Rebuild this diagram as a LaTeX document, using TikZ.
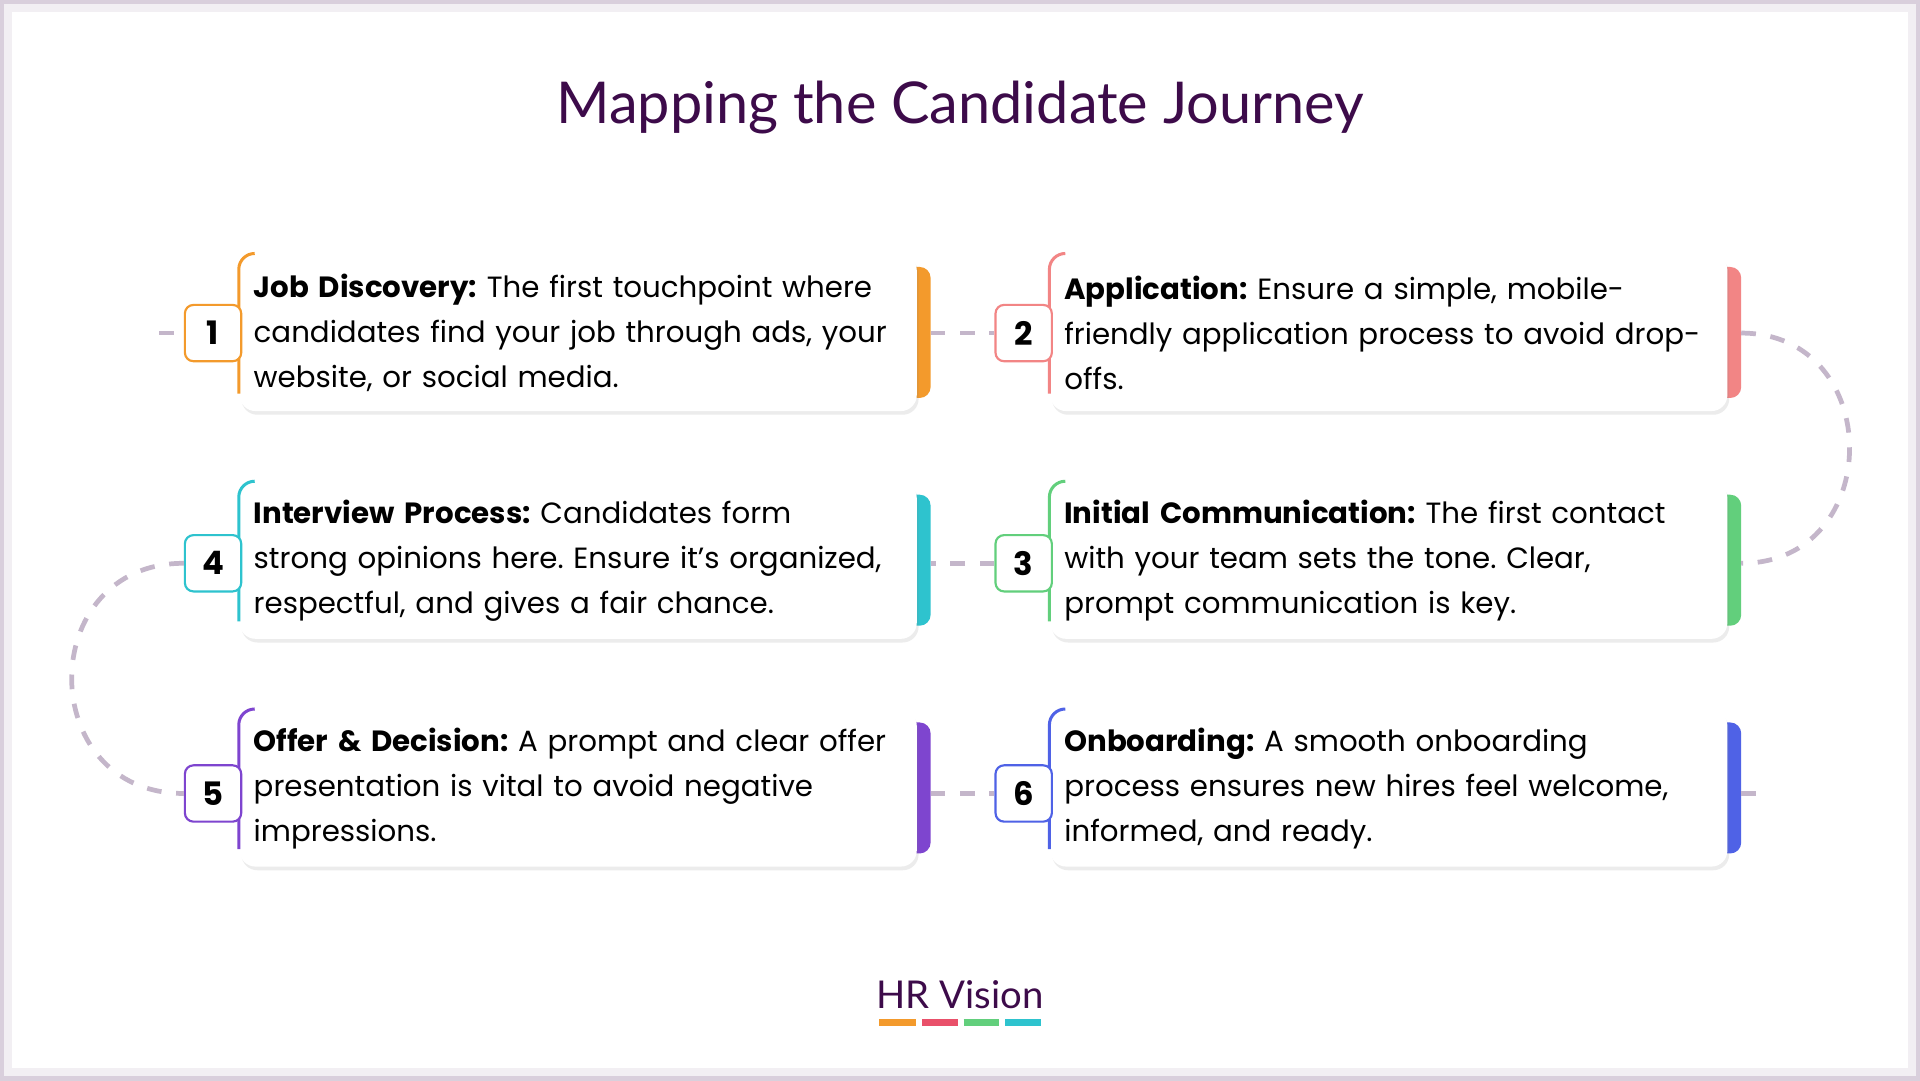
\documentclass[tikz,border=0pt]{standalone}
\usepackage{fontspec}
\setmainfont{Poppins}
\newfontfamily\titlefont{Lato}
\usetikzlibrary{positioning,shadows}
\definecolor{titlepurple}{HTML}{3D0B4A}
\definecolor{dashgray}{HTML}{C4B6CA}
\definecolor{cOne}{HTML}{F39A2C}
\definecolor{cTwo}{HTML}{F28585}
\definecolor{cThree}{HTML}{62CF7C}
\definecolor{cFour}{HTML}{2EC3CE}
\definecolor{cFive}{HTML}{7E45CF}
\definecolor{cSix}{HTML}{4F62E6}
\definecolor{logored}{HTML}{E9506A}
\frenchspacing
\newcommand{\cardfont}{\fontsize{6.8}{10.45}\selectfont}
\tikzset{
  card/.style={rectangle, fill=white, rounded corners=1.3mm, minimum width=55.3mm,
    minimum height=12.8mm, text width=53mm, inner xsep=1.15mm, align=left,
    anchor=north west, font=\cardfont,
    drop shadow={shadow xshift=0.15mm, shadow yshift=-0.3mm, opacity=0.15}},
  badge/.style={rectangle, fill=white, draw=#1, line width=0.5pt, rounded corners=0.7mm,
    minimum width=4.6mm, minimum height=4.6mm, font=\fontsize{7.5}{9}\selectfont\bfseries},
  strip/.style={fill=#1, rounded corners=0.9mm},
  edgeline/.style={draw=#1, line width=0.7pt},
  link/.style={dashgray, line width=1.1pt, dash pattern=on 1.2mm off 1.2mm},
}
\begin{document}
\begin{tikzpicture}[x=0.1mm, y=-0.1mm]
  \useasboundingbox (0,0) rectangle (1568,882);
  % frame
  \fill[white] (0,0) rectangle (1568,882);
  \draw[titlepurple!25, line width=2mm, opacity=0.25] (0,0) rectangle (1568,882);
  \draw[titlepurple!35, line width=0.6mm, opacity=0.45] (0,0) rectangle (1568,882);

  \node (title) [text=titlepurple, font=\titlefont\fontsize{13.4}{16}\selectfont] at (784,88) {Mapping the Candidate Journey};

  % side strips
  \fill[strip=cOne]   (730,218) rectangle (760,325);
  \fill[strip=cTwo]   (1392,218) rectangle (1422,325);
  \fill[strip=cFour]  (730,404) rectangle (760,511);
  \fill[strip=cThree] (1392,404) rectangle (1422,511);
  \fill[strip=cFive]  (730,590) rectangle (760,697);
  \fill[strip=cSix]   (1392,590) rectangle (1422,697);

  % cards
  \node (discovery) [card] at (195,207) {\textbf{Job Discovery:} The first touchpoint where\\candidates find your job through ads, your\\website, or social media.};
  \node (application) [card] at (857,207) {\textbf{Application:} Ensure a simple, mobile-\\friendly application process to avoid drop-\\offs.};
  \node (interview) [card] at (195,393) {\textbf{Interview Process:} Candidates form\\strong opinions here. Ensure it’s organized,\\respectful, and gives a fair chance.};
  \node (communication) [card] at (857,393) {\textbf{Initial Communication:} The first contact\\with your team sets the tone. Clear,\\prompt communication is key.};
  \node (offer) [card] at (195,579) {\textbf{Offer \& Decision:} A prompt and clear offer\\presentation is vital to avoid negative\\impressions.};
  \node (onboarding) [card] at (857,579) {\textbf{Onboarding:} A smooth onboarding\\process ensures new hires feel welcome,\\informed, and ready.};

  % coloured left edges
  \draw[edgeline=cOne]   ([yshift=1.5mm]discovery.south west) -- ([yshift=-1.3mm]discovery.north west) arc[start angle=180, end angle=90, radius=1.3mm];
  \draw[edgeline=cTwo]   ([yshift=1.5mm]application.south west) -- ([yshift=-1.3mm]application.north west) arc[start angle=180, end angle=90, radius=1.3mm];
  \draw[edgeline=cFour]  ([yshift=1.5mm]interview.south west) -- ([yshift=-1.3mm]interview.north west) arc[start angle=180, end angle=90, radius=1.3mm];
  \draw[edgeline=cThree] ([yshift=1.5mm]communication.south west) -- ([yshift=-1.3mm]communication.north west) arc[start angle=180, end angle=90, radius=1.3mm];
  \draw[edgeline=cFive]  ([yshift=1.5mm]offer.south west) -- ([yshift=-1.3mm]offer.north west) arc[start angle=180, end angle=90, radius=1.3mm];
  \draw[edgeline=cSix]   ([yshift=1.5mm]onboarding.south west) -- ([yshift=-1.3mm]onboarding.north west) arc[start angle=180, end angle=90, radius=1.3mm];

  % connectors
  \coordinate (startpt) at (130,272);
  \coordinate (endpt) at (1445,648);
  \coordinate (stripOne) at (760,272);
  \coordinate (stripTwo) at (1422,272);
  \coordinate (stripThree) at (1422,460);
  \coordinate (stripFour) at (760,460);
  \coordinate (stripFive) at (760,648);
  \coordinate (stripSix) at (1422,648);

  \node (b1) [badge=cOne]   at (174,272) {1};
  \node (b2) [badge=cTwo]   at (836,272) {2};
  \node (b3) [badge=cThree] at (836,460) {3};
  \node (b4) [badge=cFour]  at (174,460) {4};
  \node (b5) [badge=cFive]  at (174,648) {5};
  \node (b6) [badge=cSix]   at (836,648) {6};

  \draw[link] (startpt) -- (b1.west);
  \draw[link] (stripOne) -- (b2.west);
  \draw[link] (stripTwo) .. controls (1540,272) and (1540,460) .. (stripThree);
  \draw[link] (b3.west) -- (stripFour);
  \draw[link] (b4.west) .. controls (28,460) and (28,648) .. (b5.west);
  \draw[link] (stripFive) -- (b6.west);
  \draw[link] (stripSix) -- (endpt);

  % logo
  \node (logo) [text=titlepurple, font=\titlefont\fontsize{8.9}{10}\selectfont] at (784,812) {HR Vision};
  \draw[cOne, line width=0.6mm]   (718,835) -- (748,835);
  \draw[logored, line width=0.6mm] (753,835) -- (782,835);
  \draw[cThree, line width=0.6mm] (787,835) -- (816,835);
  \draw[cFour, line width=0.6mm]  (821,835) -- (850,835);
\end{tikzpicture}
\end{document}
